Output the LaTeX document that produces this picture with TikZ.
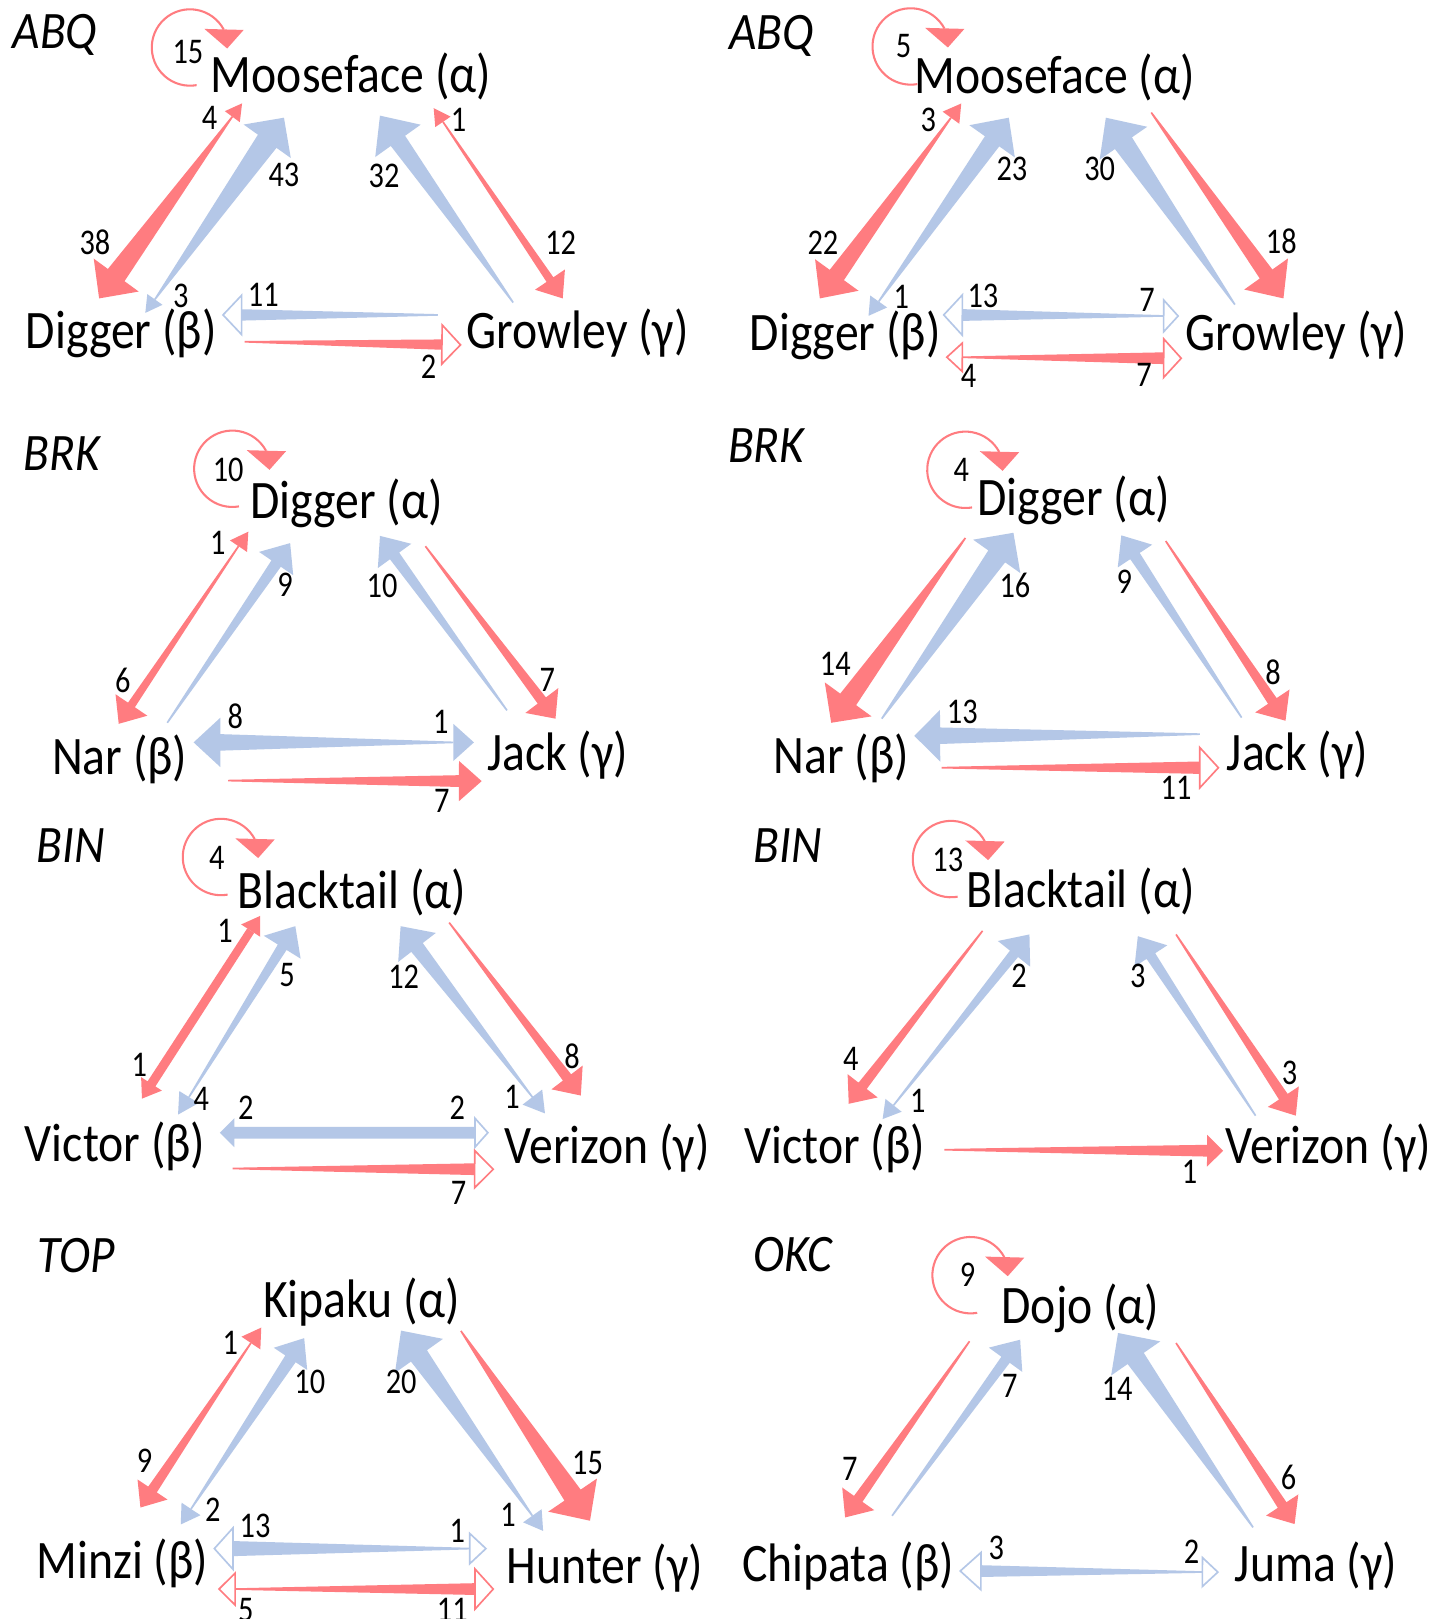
\documentclass[tikz,border=0pt]{standalone}
\usepackage{fontspec}
\setmainfont{Carlito}
\newfontfamily\namefont[FakeStretch=0.88]{Carlito}
\newfontfamily\numfont[FakeStretch=0.84]{Carlito}
\newfontfamily\ttlfont[FakeStretch=0.9]{Carlito}
\usetikzlibrary{calc}
\definecolor{rr}{HTML}{FF7C80}
\definecolor{bb}{HTML}{B4C7E7}
% filled-head tapered arrow: colour, tail, tip, tail half-width, body half-width, head half-width, head length
\newcommand\farr[7]{%
  \coordinate (aT) at #2; \coordinate (aP) at #3;
  \coordinate (aB) at ($(aP)!#7pt!(aT)$);
  \fill[#1] ($(aT)!#4pt!90:(aP)$) -- ($(aB)!#5pt!90:(aP)$) -- ($(aB)!#6pt!90:(aP)$) -- (aP)
     -- ($(aB)!#6pt!-90:(aP)$) -- ($(aB)!#5pt!-90:(aP)$) -- ($(aT)!#4pt!-90:(aP)$) -- cycle;}
% hollow-head tapered arrow
\newcommand\harr[7]{%
  \coordinate (aT) at #2; \coordinate (aP) at #3;
  \coordinate (aB) at ($(aP)!#7pt!(aT)$);
  \fill[#1] ($(aT)!#4pt!90:(aP)$) -- ($(aB)!#5pt!90:(aP)$) -- ($(aB)!#5pt!-90:(aP)$) -- ($(aT)!#4pt!-90:(aP)$) -- cycle;
  \draw[#1, line width=1.6pt, fill=white, line join=miter] ($(aB)!#6pt!90:(aP)$) -- (aP) -- ($(aB)!#6pt!-90:(aP)$) -- cycle;}
% small head at the tail end: colour, tail, tip, half-width, length
\newcommand\ftail[5]{%
  \coordinate (aT) at #2; \coordinate (aP) at #3;
  \fill[#1] ($(aT)!#4pt!90:(aP)$) -- ($(aT)!-#5pt!(aP)$) -- ($(aT)!#4pt!-90:(aP)$) -- cycle;}
\newcommand\htail[5]{%
  \coordinate (aT) at #2; \coordinate (aP) at #3;
  \draw[#1, line width=1.6pt, fill=white, line join=miter] ($(aT)!#4pt!90:(aP)$) -- ($(aT)!-#5pt!(aP)$) -- ($(aT)!#4pt!-90:(aP)$) -- cycle;}
\newcommand\selfloop[1]{%
  \begin{scope}[shift={#1}]
    \draw[rr, line width=2pt] plot[smooth, domain=80:332, samples=40] ({37*cos(\x)},{37*sin(\x)});
    \fill[rr] (14,-18) -- (52,-17) -- (36,1) -- cycle;
  \end{scope}}
\begin{document}
\begin{tikzpicture}[x=1pt,y=-1pt,
  nm/.style={font=\namefont\fontsize{52.5}{60}\selectfont, anchor=base, inner sep=0pt},
  cnt/.style={font=\numfont\fontsize{35}{40}\selectfont, inner sep=0pt},
  ttl/.style={font=\ttlfont\fontsize{51}{58}\selectfont\itshape, anchor=base west, inner sep=0pt}]
\useasboundingbox[fill=white] (0,0) rectangle (1394,1568);

% ===== L1 ABQ =====
\node[ttl] (L1t) at (12,47) {ABQ};
\node[nm] (L1a) at (340,90) {Mooseface (α)};
\node[nm] (L1b) at (117.5,338) {Digger (β)};
\node[nm] (L1c) at (559.5,338) {Growley (γ)};
\selfloop{(184,46)}
\farr{rr}{(225,113)}{(96,289)}{0.8}{10}{27}{28} \ftail{rr}{(225,113)}{(96,289)}{9}{16}
\farr{bb}{(150,290)}{(275,114)}{0.8}{11}{28}{28} \ftail{bb}{(150,290)}{(275,114)}{9}{16}
\farr{bb}{(497,293)}{(368,112)}{0.8}{8.5}{27}{30}
\farr{rr}{(429,118)}{(545,289)}{0.8}{4}{17.5}{22} \ftail{rr}{(429,118)}{(545,289)}{9}{16}
\harr{bb}{(424,305)}{(216,305)}{0.8}{5.5}{19}{18}
\harr{rr}{(237,331)}{(446,334)}{0.8}{5}{19}{18}
\node[cnt] (L1n0) at (182,50) {15};
\node[cnt] (L1n1) at (203,114) {4};
\node[cnt] (L1n2) at (275,169) {43};
\node[cnt] (L1n3) at (92,235) {38};
\node[cnt] (L1n4) at (175,287) {3};
\node[cnt] (L1n5) at (372,170) {32};
\node[cnt] (L1n6) at (444,116) {1};
\node[cnt] (L1n7) at (543,235) {12};
\node[cnt] (L1n8) at (255,286) {11};
\node[cnt] (L1n9) at (415,355) {2};

% ===== R1 ABQ =====
\node[ttl] (R1t) at (706,48) {ABQ};
\node[nm] (R1a) at (1021.5,91) {Mooseface (α)};
\node[nm] (R1b) at (818.5,339) {Digger (β)};
\node[nm] (R1c) at (1255.5,339) {Growley (γ)};
\selfloop{(882,45)}
\farr{rr}{(921,114)}{(794,289)}{0.8}{8.5}{26}{28} \ftail{rr}{(921,114)}{(794,289)}{10}{17}
\farr{bb}{(851,292)}{(977,114)}{0.8}{8.5}{27}{28} \ftail{bb}{(851,292)}{(977,114)}{10}{17}
\farr{bb}{(1196,295)}{(1071,114)}{0.8}{10}{28}{30}
\farr{rr}{(1115,109)}{(1243,289)}{0.8}{7.5}{26}{29}
\harr{bb}{(1127,306)}{(914,305)}{0.8}{5.7}{19.5}{18} \htail{bb}{(1127,306)}{(914,305)}{15.4}{14}
\harr{rr}{(932,346)}{(1144,347)}{0.8}{5.7}{18.7}{17} \htail{rr}{(932,346)}{(1144,347)}{13.8}{15}
\node[cnt] (R1n0) at (875,45) {5};
\node[cnt] (R1n1) at (899,116) {3};
\node[cnt] (R1n2) at (980,164) {23};
\node[cnt] (R1n3) at (1065,164) {30};
\node[cnt] (R1n4) at (797,235) {22};
\node[cnt] (R1n5) at (1241,234) {18};
\node[cnt] (R1n6) at (873,288) {1};
\node[cnt] (R1n7) at (952,287) {13};
\node[cnt] (R1n8) at (1111,290) {7};
\node[cnt] (R1n9) at (938,364) {4};
\node[cnt] (R1n10) at (1108,363) {7};

% ===== L2 BRK =====
\node[ttl] (L2t) at (23,456) {BRK};
\node[nm] (L2a) at (335.5,502) {Digger (α)};
\node[nm] (L2b) at (116,750) {Nar (β)};
\node[nm] (L2c) at (540,746) {Jack (γ)};
\selfloop{(225,454)}
\farr{rr}{(231,529)}{(115,701)}{0.8}{4}{18.6}{22} \ftail{rr}{(231,529)}{(115,701)}{10}{17}
\farr{bb}{(162,700)}{(281,526)}{0.8}{5.5}{20}{24}
\farr{bb}{(491,688)}{(368,519)}{0.8}{5.5}{20}{24}
\farr{rr}{(412,529)}{(538,696)}{0.8}{5}{20}{22}
\farr{bb}{(439,719)}{(187.5,719)}{0.8}{8}{24}{26} \ftail{bb}{(439,719)}{(187.5,719)}{18}{20}
\farr{rr}{(221,756)}{(466.5,756.5)}{0.8}{5.7}{19.5}{22}
\node[cnt] (L2n0) at (221,455) {10};
\node[cnt] (L2n1) at (211,526) {1};
\node[cnt] (L2n2) at (276,566) {9};
\node[cnt] (L2n3) at (370,567) {10};
\node[cnt] (L2n4) at (119,659) {6};
\node[cnt] (L2n5) at (530,658) {7};
\node[cnt] (L2n6) at (228,694) {8};
\node[cnt] (L2n7) at (427,699) {1};
\node[cnt] (L2n8) at (428,776) {7};

% ===== R2 BRK =====
\node[ttl] (R2t) at (705,448) {BRK};
\node[nm] (R2a) at (1039.5,499) {Digger (α)};
\node[nm] (R2b) at (815,749) {Nar (β)};
\node[nm] (R2c) at (1256.5,746) {Jack (γ)};
\selfloop{(935,455)}
\farr{rr}{(935,521)}{(805,700)}{0.8}{9.5}{28}{28}
\farr{bb}{(854,696)}{(981.5,516)}{0.8}{10}{28}{28}
\farr{bb}{(1202.5,695)}{(1086,518.5)}{0.8}{5.5}{20}{24}
\farr{rr}{(1129,524)}{(1245,698)}{0.8}{5}{20}{23}
\farr{bb}{(1162,711)}{(885.5,712.7)}{0.8}{8}{25}{25}
\harr{rr}{(912,743.5)}{(1180,743.5)}{0.8}{6}{19.5}{18}
\node[cnt] (R2n0) at (931,455) {4};
\node[cnt] (R2n1) at (983,567) {16};
\node[cnt] (R2n2) at (1089,563) {9};
\node[cnt] (R2n3) at (809,643) {14};
\node[cnt] (R2n4) at (1233,651) {8};
\node[cnt] (R2n5) at (932,689) {13};
\node[cnt] (R2n6) at (1139,763) {11};

% ===== L3 BIN =====
\node[ttl] (L3t) at (35,835) {BIN};
\node[nm] (L3a) at (341,880) {Blacktail (α)};
\node[nm] (L3b) at (111.5,1125) {Victor (β)};
\node[nm] (L3c) at (588,1127) {Verizon (γ)};
\selfloop{(214,830)}
\farr{rr}{(242.8,901.3)}{(137.5,1064)}{4}{4.5}{12}{17} \ftail{rr}{(242.8,901.3)}{(137.5,1064)}{11}{17}
\farr{bb}{(183,1062.5)}{(286,897)}{0.8}{5}{21}{24} \ftail{bb}{(183,1062.5)}{(286,897)}{11}{20}
\farr{bb}{(515.6,1062.5)}{(388,897)}{0.8}{7}{23}{26} \ftail{bb}{(515.6,1062.5)}{(388,897)}{12}{20}
\farr{rr}{(435,893.5)}{(562.5,1061)}{0.8}{5}{19}{22}
\farr{bb}{(460,1097)}{(213,1097)}{5.7}{5.7}{14}{14} \htail{bb}{(460,1097)}{(213,1097)}{14}{12.5}
\harr{rr}{(225.4,1131.7)}{(477.7,1132.4)}{0.8}{5.7}{18}{18}
\node[cnt] (L3n0) at (210,831) {4};
\node[cnt] (L3n1) at (218,902) {1};
\node[cnt] (L3n2) at (278,944) {5};
\node[cnt] (L3n3) at (391,946) {12};
\node[cnt] (L3n4) at (135,1031) {1};
\node[cnt] (L3n5) at (195,1064) {4};
\node[cnt] (L3n6) at (554,1023) {8};
\node[cnt] (L3n7) at (496,1062) {1};
\node[cnt] (L3n8) at (238,1073) {2};
\node[cnt] (L3n9) at (443,1073) {2};
\node[cnt] (L3n10) at (444,1155) {7};

% ===== R3 BIN =====
\node[ttl] (R3t) at (730,835) {BIN};
\node[nm] (R3a) at (1046.5,878.5) {Blacktail (α)};
\node[nm] (R3b) at (808.5,1127) {Victor (β)};
\node[nm] (R3c) at (1286.5,1127) {Verizon (γ)};
\selfloop{(921,832)}
\farr{rr}{(951.6,901.5)}{(822,1069)}{0.8}{5}{18.4}{22}
\farr{bb}{(865.4,1070.5)}{(997,905)}{0.8}{5}{20}{24} \ftail{bb}{(865.4,1070.5)}{(997,905)}{10}{17}
\farr{bb}{(1216,1080.5)}{(1102,906.7)}{0.8}{5}{19}{23}
\farr{rr}{(1139,905)}{(1255,1080.5)}{0.8}{5}{18}{22}
\farr{rr}{(914.5,1113.5)}{(1184.6,1114.5)}{0.8}{5.7}{15.4}{15.6}
\node[cnt] (R3n0) at (918,833) {13};
\node[cnt] (R3n1) at (987,945) {2};
\node[cnt] (R3n2) at (1102,945) {3};
\node[cnt] (R3n3) at (824,1026) {4};
\node[cnt] (R3n4) at (889,1066) {1};
\node[cnt] (R3n5) at (1249,1039) {3};
\node[cnt] (R3n6) at (1152,1135) {1};

% ===== L4 TOP =====
\node[ttl] (L4t) at (36,1232.5) {TOP};
\node[nm] (L4a) at (350,1276) {Kipaku (α)};
\node[nm] (L4b) at (118.5,1529) {Minzi (β)};
\node[nm] (L4c) at (586,1534) {Hunter (γ)};
\farr{rr}{(243,1300.7)}{(136,1460)}{0.8}{5}{17.5}{21} \ftail{rr}{(243,1300.7)}{(136,1460)}{11}{18}
\farr{bb}{(185,1461.4)}{(294.6,1296)}{0.8}{6}{19.4}{24} \ftail{bb}{(185,1461.4)}{(294.6,1296)}{11}{18}
\farr{bb}{(515.6,1468)}{(388.4,1288.7)}{0.8}{9.5}{28.5}{30} \ftail{bb}{(515.6,1468)}{(388.4,1288.7)}{11}{18}
\farr{rr}{(446.4,1289)}{(571.4,1472.8)}{0.8}{9.5}{28.5}{30}
\harr{bb}{(455,1499.8)}{(207.6,1499.8)}{0.8}{7.3}{20}{18} \htail{bb}{(455,1499.8)}{(207.6,1499.8)}{14.6}{15.6}
\harr{rr}{(227.7,1539)}{(477.7,1539)}{0.8}{5.7}{19.5}{17.7} \htail{rr}{(227.7,1539)}{(477.7,1539)}{15.4}{15.6}
\node[cnt] (L4n1) at (223,1300.5) {1};
\node[cnt] (L4n2) at (300,1338.5) {10};
\node[cnt] (L4n3) at (388.5,1338.5) {20};
\node[cnt] (L4n4) at (140,1415) {9};
\node[cnt] (L4n5) at (569,1416.5) {15};
\node[cnt] (L4n6) at (206,1462) {2};
\node[cnt] (L4n7) at (492,1467) {1};
\node[cnt] (L4n8) at (247,1478) {13};
\node[cnt] (L4n9) at (443,1483) {1};
\node[cnt] (L4n10) at (238,1559) {5};
\node[cnt] (L4n11) at (438,1559) {11};

% ===== R4 OKC =====
\node[ttl] (R4t) at (730,1231) {OKC};
\node[nm] (R4a) at (1046.5,1282) {Dojo (α)};
\node[nm] (R4b) at (821.5,1532) {Chipata (β)};
\node[nm] (R4c) at (1274.5,1532) {Juma (γ)};
\selfloop{(940,1235)}
\farr{rr}{(939,1299)}{(818.5,1469.6)}{0.8}{5}{19}{22}
\farr{bb}{(864,1468)}{(988,1297.5)}{0.8}{5}{20}{24}
\farr{bb}{(1213.6,1479.3)}{(1082.8,1291)}{0.8}{9.5}{29}{30}
\farr{rr}{(1139,1300.7)}{(1253.8,1476)}{0.8}{5}{18.7}{22}
\harr{bb}{(1164.5,1522.5)}{(930,1521.5)}{0.8}{5.7}{18}{20} \htail{bb}{(1164.5,1522.5)}{(930,1521.5)}{14}{15}
\node[cnt] (R4n0) at (937,1235) {9};
\node[cnt] (R4n1) at (978,1342) {7};
\node[cnt] (R4n2) at (1082,1345) {14};
\node[cnt] (R4n3) at (823,1423) {7};
\node[cnt] (R4n4) at (1248,1431) {6};
\node[cnt] (R4n5) at (965,1499) {3};
\node[cnt] (R4n6) at (1154,1503) {2};
\end{tikzpicture}
\end{document}
